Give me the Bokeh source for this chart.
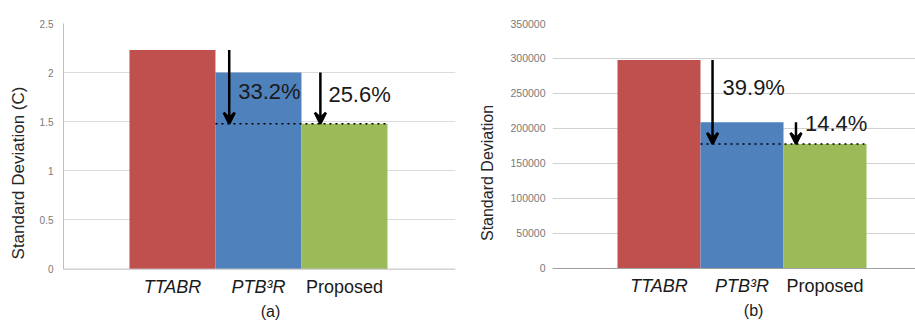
from bokeh.plotting import figure
from bokeh.models import (ColumnDataSource, FixedTicker, Range1d, Arrow, VeeHead, Span)
from bokeh.layouts import row
from bokeh.embed import file_html
from bokeh.resources import INLINE
from bokeh.core.properties import value

# ---------------- data ----------------
categories = ["TTABR", "PTB\u00b3R", "Proposed"]
temp_sd = [2.23, 2.0, 1.48]                      # panel (a), Standard Deviation (C)
energy_sd = [298000, 209000, 178000]             # panel (b), Standard Deviation
temp_reduction_labels = ["33.2%", "25.6%"]       # TTABR->Proposed, PTB3R->Proposed
energy_reduction_labels = ["39.9%", "14.4%"]
temp_ticks = [0, 0.5, 1, 1.5, 2, 2.5]
temp_tick_labels = ["0", "0.5", "1", "1.5", "2", "2.5"]
energy_ticks = [0, 50000, 100000, 150000, 200000, 250000, 300000, 350000]
energy_tick_labels = ["0", "50000", "100000", "150000", "200000", "250000", "300000", "350000"]

# ---------------- style ----------------
FONT = "Liberation Sans"
bar_colors = ["#C0504D", "#4F81BD", "#9BBB59"]
label_styles = ["italic", "italic", "normal"]


def make_panel(vals, ticks, tick_labels, red_labels, ylabel, caption, width,
               frame_left, frame_right, frame_top, x_range, y_range, axis_line,
               grid_color, base_color, tick_font, tick_standoff, label_font, label_standoff,
               arrow_dx, label_dx, label_dy):
    xs = list(range(1, len(vals) + 1))
    p = figure(width=width, height=322, output_backend="svg", toolbar_location=None,
               x_range=Range1d(*x_range), y_range=Range1d(*y_range),
               x_axis_location=None,
               min_border_left=frame_left, min_border_right=width - frame_right,
               min_border_top=frame_top, min_border_bottom=0)
    p.outline_line_color = None
    p.background_fill_color = "white"
    p.xgrid.visible = False
    p.ygrid.ticker = FixedTicker(ticks=ticks)
    p.ygrid.grid_line_color = grid_color
    p.ygrid.grid_line_width = 1

    ax = p.yaxis[0]
    ax.ticker = FixedTicker(ticks=ticks)
    ax.major_label_overrides = {t: l for t, l in zip(ticks, tick_labels)}
    ax.bounds = (ticks[0], ticks[-1])
    ax.axis_line_color = axis_line
    ax.major_tick_line_color = None
    ax.minor_tick_line_color = None
    ax.major_tick_out = 0
    ax.major_label_standoff = tick_standoff
    ax.major_label_text_font = FONT
    ax.major_label_text_font_size = tick_font
    ax.major_label_text_color = "#7a7a7a"
    ax.axis_label = ylabel
    ax.axis_label_text_font = FONT
    ax.axis_label_text_font_style = "normal"
    ax.axis_label_text_font_size = label_font
    ax.axis_label_text_color = "#262626"
    ax.axis_label_standoff = label_standoff

    p.add_layout(Span(location=0, dimension="width", line_color=base_color, line_width=1))

    src = ColumnDataSource(dict(x=xs, top=vals, color=bar_colors, cat=categories,
                                style=label_styles))
    p.vbar(x="x", top="top", bottom=0, width=1.0, fill_color="color", line_color=None,
           source=src)

    # proposed reference dotted line
    prop = vals[-1]
    p.segment(x0=[xs[1] - 0.5], y0=[prop], x1=[xs[-1] + 0.5], y1=[prop],
              line_color="black", line_width=1.5, line_dash="dotted")

    # reduction arrows + labels
    for i, lab in enumerate(red_labels):
        ax_x = xs[i] + arrow_dx[i]
        p.add_layout(Arrow(x_start=ax_x, y_start=vals[i], x_end=ax_x, y_end=prop,
                           line_width=2.5, line_color="black",
                           end=VeeHead(size=11, line_width=2.5, line_color="black")))
        p.text(x=[ax_x], y=[prop], text=[lab], x_offset=label_dx[i], y_offset=label_dy[i],
               text_font=value(FONT), text_font_size="22px", text_color="#1a1a1a",
               text_align="left", text_baseline="middle")

    # category labels below baseline
    p.text(x="x", y=0, text="cat", source=src, y_offset=18, text_font=value(FONT),
           text_font_size="18px", text_font_style="style", text_color="#1a1a1a",
           text_align="center", text_baseline="middle")
    # caption
    p.text(x=[xs[1] + 0.14], y=[0], text=[caption], y_offset=42, text_font=value(FONT),
           text_font_size="16px", text_color="#1a1a1a", text_align="center",
           text_baseline="middle")
    return p


pa = make_panel(temp_sd, temp_ticks, temp_tick_labels, temp_reduction_labels,
                "Standard Deviation (C)", "(a)", 460,
                frame_left=63, frame_right=455, frame_top=20,
                x_range=(-0.267, 4.291), y_range=(-0.544, 2.5),
                axis_line="#BFBFBF", grid_color="#DCDCDC", base_color="#C8C8C8",
                tick_font="10px", tick_standoff=10, label_font="17px", label_standoff=9,
                arrow_dx=[0.66, 0.72], label_dx=[9, 8], label_dy=[-32, -29])

pb = make_panel(energy_sd, energy_ticks, energy_tick_labels, energy_reduction_labels,
                "Standard Deviation", "(b)", 455,
                frame_left=92, frame_right=455, frame_top=23,
                x_range=(-0.283, 4.090), y_range=(-77143, 350000),
                axis_line=None, grid_color="#D2D2D2", base_color="#A0A0A0",
                tick_font="10.5px", tick_standoff=7, label_font="16px", label_standoff=11,
                arrow_dx=[0.645, 0.65], label_dx=[10, 9], label_dy=[-56, -20])

layout = row(pa, pb)
open("out.html", "w").write(file_html(layout, INLINE))
